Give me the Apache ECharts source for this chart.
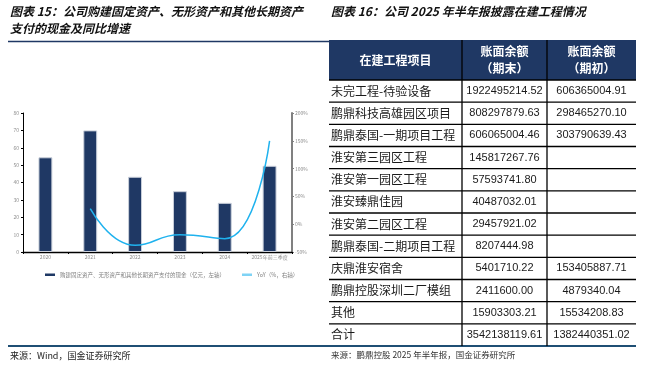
<!DOCTYPE html>
<html><head><meta charset="utf-8">
<script src="https://cdn.jsdelivr.net/npm/echarts@6/dist/echarts.min.js"></script>
<style>html,body{margin:0;padding:0;background:#fff}#c{width:648px;height:368px}</style>
</head><body><div id="c"></div>
<script>
// ---- Chart data (figure 15) ----
const years = ['2020', '2021', '2022', '2023', '2024', '2025年前三季度'];
const capex = [54.5, 70.0, 43.3, 35.0, 28.3, 49.6];          // 亿元, left axis
const yoy = [null, 28, -38, -19, -26, 150];                   // %, right axis
const leftAxisRange = [0, 80, 10];
const rightAxisRange = [-50, 200, 50];
const seriesNames = ['购建固定资产、无形资产和其他长期资产支付的现金（亿元，左轴）', 'YoY（%，右轴）'];

// ---- Table data (figure 16) ----
const tableHeaders = ['在建工程项目', '账面余额\n（期末）', '账面余额\n（期初）'];
const projects = ['未完工程-待验设备', '鹏鼎科技高雄园区项目', '鹏鼎泰国-一期项目工程', '淮安第三园区工程', '淮安第一园区工程', '淮安臻鼎佳园', '淮安第二园区工程', '鹏鼎泰国-二期项目工程', '庆鼎淮安宿舍', '鹏鼎控股深圳二厂模组', '其他', '合计'];
const endBalance = ['1922495214.52', '808297879.63', '606065004.46', '145817267.76', '57593741.80', '40487032.01', '29457921.02', '8207444.98', '5401710.22', '2411600.00', '15903303.21', '3542138119.61'];
const beginBalance = ['606365004.91', '298465270.10', '303790639.43', '', '', '', '', '', '153405887.71', '4879340.04', '15534208.83', '1382440351.02'];

const titles = {
  left: ['图表 15：公司购建固定资产、无形资产和其他长期资产', '支付的现金及同比增速'],
  right: '图表 16：公司 2025 年半年报披露在建工程情况'
};
const sources = { left: '来源：Wind，国金证券研究所', right: '来源：鹏鼎控股 2025 年半年报，国金证券研究所' };

// ---- layout / style ----
const NAVY = '#1f3864';
const RULE = '#1f4f74';
const FONT = '"Noto Sans CJK SC", "Noto Sans", sans-serif';
const NUMFONT = '"Liberation Sans", Arial, sans-serif';
const T = { left: 329, top: 40, headBottom: 80, bottom: 346, right: 636 };
const colEdges = [0, 133, 218, 307]; // in table-grid x units

const chart = echarts.init(document.getElementById('c'), null, { renderer: 'canvas' });

const titleStyle = { fill: '#111', fontSize: 12, fontWeight: 'bold', fontStyle: 'italic', fontFamily: FONT };
const graphics = [
  { type: 'text', left: 10, top: 5, style: Object.assign({ text: titles.left[0] }, titleStyle) },
  { type: 'text', left: 10, top: 22, style: Object.assign({ text: titles.left[1] }, titleStyle) },
  { type: 'text', left: 331, top: 5, style: Object.assign({ text: titles.right }, titleStyle) },
  { type: 'line', shape: { x1: 8, y1: 41.5, x2: T.left, y2: 41.5 }, style: { stroke: NAVY, lineWidth: 1.3 } },
  { type: 'line', shape: { x1: 8, y1: 346, x2: 328, y2: 346 }, style: { stroke: RULE, lineWidth: 2 } },
  { type: 'line', shape: { x1: 325, y1: 346, x2: T.right, y2: 346 }, style: { stroke: RULE, lineWidth: 2 } },
  { type: 'text', left: 10, top: 351, style: { text: sources.left, fill: '#222', fontSize: 9, fontFamily: FONT } },
  { type: 'text', left: 331, top: 351, style: { text: sources.right, fill: '#333', fontSize: 8.5, fontFamily: FONT } },
  // table header
  { type: 'rect', shape: { x: T.left, y: T.top, width: T.right - T.left, height: T.headBottom - T.top }, style: { fill: NAVY } },
  { type: 'line', shape: { x1: T.left, y1: T.headBottom, x2: T.right, y2: T.headBottom }, style: { stroke: '#000', lineWidth: 1.3 } }
];
const hx = [T.left + colEdges[0], T.left + colEdges[1], T.left + colEdges[2], T.left + colEdges[3]];
tableHeaders.forEach((h, k) => {
  graphics.push({ type: 'text', style: { text: h, x: (hx[k] + hx[k + 1]) / 2, y: (T.top + T.headBottom) / 2, align: 'center', verticalAlign: 'middle', fill: '#fff', fontSize: 12, fontWeight: 'bold', lineHeight: 17, fontFamily: FONT } });
});
[1, 2].forEach(k => {
  graphics.push({ type: 'line', shape: { x1: hx[k], y1: T.top, x2: hx[k], y2: T.bottom }, style: { stroke: '#000', lineWidth: 1.3 }, z: 10 });
});

const option = {
  animation: false,
  backgroundColor: '#fff',
  textStyle: { fontFamily: FONT },
  graphic: graphics,
  legend: {
    left: 40, top: 267, itemWidth: 10, itemHeight: 2.5, itemGap: 17,
    textStyle: { fontSize: 5.5, color: '#7f7f7f' },
    data: [
      { name: seriesNames[0], icon: 'rect', itemStyle: { color: NAVY, borderWidth: 0, borderColor: 'transparent' } },
      { name: seriesNames[1], icon: 'rect', itemStyle: { color: '#7fd3f5', borderWidth: 0, borderColor: 'transparent' } }
    ]
  },
  grid: [
    { left: 23, top: 113, width: 269, height: 139 },
    { left: T.left, top: T.headBottom, width: T.right - T.left, height: T.bottom - T.headBottom }
  ],
  xAxis: [
    { type: 'category', gridIndex: 0, data: years,
      axisLine: { lineStyle: { color: '#000', width: 1.3 } },
      axisTick: { show: true, length: 2, lineStyle: { color: '#000' } },
      axisLabel: { fontSize: 5, color: '#8c8c8c', margin: 3, interval: 0 } },
    { type: 'value', gridIndex: 1, min: 0, max: colEdges[3], show: false }
  ],
  yAxis: [
    { type: 'value', gridIndex: 0, min: leftAxisRange[0], max: leftAxisRange[1], interval: leftAxisRange[2],
      axisLine: { show: true, lineStyle: { color: '#000', width: 1 } },
      axisTick: { show: true, length: 2, lineStyle: { color: '#000' } },
      splitLine: { show: false },
      axisLabel: { fontSize: 5, color: '#8c8c8c', margin: 4 } },
    { type: 'value', gridIndex: 0, position: 'right', min: rightAxisRange[0], max: rightAxisRange[1], interval: rightAxisRange[2],
      axisLine: { show: true, lineStyle: { color: '#808080', width: 2 } },
      axisTick: { show: true, length: 2, lineStyle: { color: '#808080' } },
      splitLine: { show: false },
      axisLabel: { fontSize: 5, color: '#8c8c8c', margin: 3, formatter: '{value}%' } },
    { type: 'category', gridIndex: 1, data: projects.map((_, i) => i), inverse: true, show: false }
  ],
  series: [
    { name: seriesNames[0], type: 'bar', xAxisIndex: 0, yAxisIndex: 0, data: capex, barWidth: '31%',
      itemStyle: { color: NAVY, borderColor: '#c9cfda', borderWidth: 1 } },
    { name: seriesNames[1], type: 'line', xAxisIndex: 0, yAxisIndex: 1, data: yoy, smooth: true, showSymbol: false, symbol: 'none',
      lineStyle: { color: '#1fb2ee', width: 1.5 }, itemStyle: { color: '#1fb2ee' } },
    { type: 'custom', xAxisIndex: 1, yAxisIndex: 2, clip: false, z: 5,
      data: projects.map((_, i) => [0, i]),
      encode: { x: 0, y: 1 },
      renderItem: function (params, api) {
        const i = api.value(1);
        const c = api.coord([0, i]);
        const h = api.size([0, 1])[1];
        const yc = c[1];
        const x = k => api.coord([colEdges[k], i])[0];
        const children = [
          { type: 'text', style: { text: projects[i], x: x(0) + 2, y: yc, align: 'left', verticalAlign: 'middle', fill: '#1a1a1a', fontSize: 12, fontFamily: FONT } },
          { type: 'text', style: { text: endBalance[i], x: (x(1) + x(2)) / 2, y: yc, align: 'center', verticalAlign: 'middle', fill: '#1a1a1a', fontSize: 11, fontFamily: NUMFONT } },
          { type: 'text', style: { text: beginBalance[i], x: (x(2) + x(3)) / 2, y: yc, align: 'center', verticalAlign: 'middle', fill: '#1a1a1a', fontSize: 11, fontFamily: NUMFONT } }
        ];
        if (i < projects.length - 1) {
          children.push({ type: 'line', shape: { x1: x(0), y1: yc + h / 2, x2: x(3), y2: yc + h / 2 }, style: { stroke: '#000', lineWidth: 1.3 } });
        }
        return { type: 'group', children: children };
      }
    }
  ]
};
chart.setOption(option);
</script></body></html>
